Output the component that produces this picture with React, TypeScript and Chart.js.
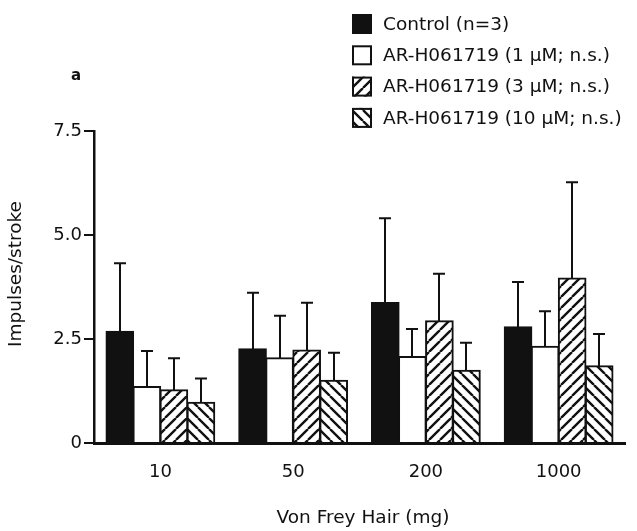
import React, { useEffect, useRef } from "react";
import { Chart, registerables } from "chart.js";

Chart.register(...registerables);

const categories = ["10", "50", "200", "1000"];
const seriesLabels = [
  "Control (n=3)",
  "AR-H061719 (1 \u03BCM; n.s.)",
  "AR-H061719 (3 \u03BCM; n.s.)",
  "AR-H061719 (10 \u03BCM; n.s.)",
];
const controlMean = [2.68, 2.26, 3.37, 2.79];
const controlSem = [1.64, 1.35, 2.03, 1.08];
const dose1Mean = [1.35, 2.04, 2.07, 2.32];
const dose1Sem = [0.86, 1.02, 0.67, 0.85];
const dose3Mean = [1.27, 2.23, 2.93, 3.96];
const dose3Sem = [0.77, 1.14, 1.14, 2.31];
const dose10Mean = [0.97, 1.5, 1.74, 1.85];
const dose10Sem = [0.58, 0.67, 0.67, 0.77];
const yTicks = [0, 2.5, 5.0, 7.5];
const yTickLabels = ["0", "2.5", "5.0", "7.5"];
const xTitle = "Von Frey Hair (mg)";
const yTitle = "Impulses/stroke";
const panelLabel = "a";

const FONT = "'DejaVu Sans', 'Liberation Sans', Arial, sans-serif";
const INK = "#111111";

function makeHatch(dir: number, s = 10.5, lw = 2.4): CanvasPattern | string {
  const size = Math.round(s);
  const c = document.createElement("canvas");
  c.width = size;
  c.height = size;
  const x = c.getContext("2d");
  if (!x) return "#fff";
  x.fillStyle = "#fff";
  x.fillRect(0, 0, size, size);
  x.strokeStyle = INK;
  x.lineWidth = lw;
  x.beginPath();
  for (let k = -1; k <= 1; k++) {
    if (dir === 1) {
      x.moveTo(k * size, size);
      x.lineTo(k * size + size, 0);
    } else {
      x.moveTo(k * size, 0);
      x.lineTo(k * size + size, size);
    }
  }
  x.stroke();
  const p = x.createPattern(c, "repeat");
  return p || "#fff";
}

export default function App() {
  const ref = useRef<HTMLCanvasElement | null>(null);

  useEffect(() => {
    const canvas = ref.current;
    if (!canvas) return;
    const means = [controlMean, dose1Mean, dose3Mean, dose10Mean];
    const sems = [controlSem, dose1Sem, dose3Sem, dose10Sem];
    const fills: (string | CanvasPattern)[] = [INK, "#ffffff", makeHatch(1), makeHatch(-1)];

    const overlay = {
      id: "overlay",
      afterDatasetsDraw(chart: any) {
        const ctx = chart.ctx;
        const ys = chart.scales.y;
        ctx.save();
        ctx.strokeStyle = INK;
        ctx.lineWidth = 2;
        chart.data.datasets.forEach((ds: any, di: number) => {
          const meta = chart.getDatasetMeta(di);
          meta.data.forEach((el: any, i: number) => {
            const top = ys.getPixelForValue(means[di][i] + sems[di][i]);
            const base = ys.getPixelForValue(means[di][i]);
            const x = Math.round(el.x);
            ctx.beginPath();
            ctx.moveTo(x, base);
            ctx.lineTo(x, top);
            ctx.moveTo(x - 6, top);
            ctx.lineTo(x + 6, top);
            ctx.stroke();
          });
        });
        ctx.restore();
      },
      afterDraw(chart: any) {
        const ctx = chart.ctx;
        ctx.save();
        const bx = 352;
        const tx = 383;
        chart.data.datasets.forEach((ds: any, di: number) => {
          const cy = 24 + di * 31.3;
          ctx.fillStyle = fills[di];
          ctx.fillRect(bx, cy - 10, 20, 20);
          ctx.strokeStyle = INK;
          ctx.lineWidth = 2;
          ctx.strokeRect(bx + 1, cy - 9, 18, 18);
          ctx.fillStyle = INK;
          ctx.font = `18.5px ${FONT}`;
          ctx.textAlign = "left";
          ctx.textBaseline = "middle";
          ctx.fillText(ds.label, tx, cy + 1);
        });
        ctx.font = `bold 15px ${FONT}`;
        ctx.textAlign = "center";
        ctx.textBaseline = "middle";
        ctx.fillText(panelLabel, 76, 76);
        ctx.font = `18.5px ${FONT}`;
        ctx.fillText(xTitle, 363, 518);
        ctx.translate(16, 274);
        ctx.rotate(-Math.PI / 2);
        ctx.fillText(yTitle, 0, 0);
        ctx.restore();
      },
    };

    const chart = new Chart(canvas, {
      type: "bar",
      data: {
        labels: categories,
        datasets: seriesLabels.map((label, di) => ({
          label,
          data: means[di],
          backgroundColor: fills[di] as any,
          borderColor: INK,
          borderWidth: 2,
          inflateAmount: 0.8,
          categoryPercentage: 0.815,
          barPercentage: 1,
        })),
      },
      options: {
        responsive: false,
        animation: false,
        devicePixelRatio: 1,
        layout: { padding: { top: 131, right: 12, left: 0, bottom: 0 } },
        plugins: {
          legend: { display: false },
          tooltip: { enabled: false },
        },
        scales: {
          x: {
            afterFit: (s: any) => {
              s.height = 88;
            },
            grid: { display: false, drawTicks: false },
            border: { display: true, color: INK, width: 3 },
            ticks: {
              color: INK,
              padding: 19,
              font: { family: FONT, size: 18 },
            },
          },
          y: {
            min: 0,
            max: 7.5,
            afterFit: (s: any) => {
              s.width = 94;
            },
            afterBuildTicks: (s: any) => {
              s.ticks = yTicks.map((v) => ({ value: v }));
            },
            grid: {
              display: true,
              drawOnChartArea: false,
              drawTicks: true,
              tickLength: 10,
              color: INK,
              lineWidth: 2,
            },
            border: { display: true, color: INK, width: 2.5 },
            ticks: {
              color: INK,
              padding: 2,
              font: { family: FONT, size: 18 },
              callback: (v: any) => {
                const idx = yTicks.indexOf(Number(v));
                return idx >= 0 ? yTickLabels[idx] : "";
              },
            },
          },
        },
      },
      plugins: [overlay],
    });
    return () => chart.destroy();
  }, []);

  return (
    <div style={{ position: "fixed", left: 0, top: 0, width: 637, height: 531, background: "#fff" }}>
      <canvas ref={ref} width={637} height={531} style={{ display: "block" }} />
    </div>
  );
}
